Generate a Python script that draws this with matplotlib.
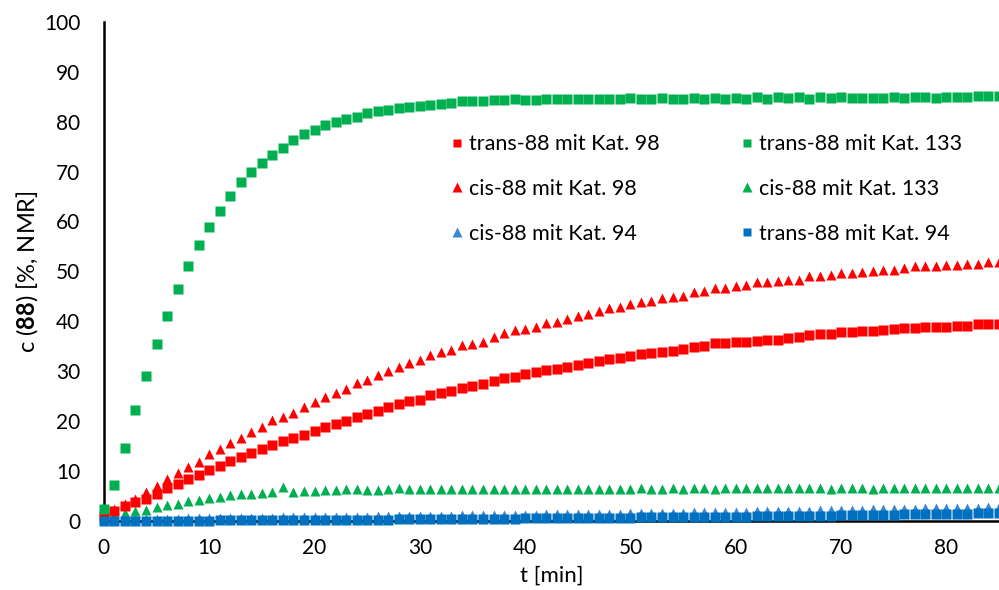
import matplotlib
matplotlib.use("Agg")
import matplotlib.pyplot as plt
import numpy as np

plt.rcParams['font.family'] = ['Lato', 'DejaVu Sans']
plt.rcParams['mathtext.fontset'] = 'custom'
plt.rcParams['mathtext.rm'] = 'Lato'
plt.rcParams['mathtext.bf'] = 'Lato:bold'

# time in minutes
t_min = list(range(0, 86))

trans_98 = [1.0, 1.9, 2.9, 3.9, 4.5, 5.5, 6.6, 7.4, 8.4, 9.2,
            10.2, 11.0, 12.0, 12.9, 13.6, 14.5, 15.2, 16.0, 16.6, 17.2,
            18.0, 18.9, 19.4, 20.0, 20.8, 21.4, 22.0, 22.8, 23.4, 24.0,
            24.2, 25.3, 25.6, 26.1, 26.6, 27.1, 27.4, 28.1, 28.6, 28.9,
            29.5, 29.9, 30.3, 30.4, 30.9, 31.3, 31.7, 32.1, 32.4, 32.7,
            33.1, 33.4, 33.6, 33.9, 34.1, 34.5, 34.9, 35.1, 35.6, 35.6,
            35.9, 35.9, 36.1, 36.3, 36.3, 36.6, 36.8, 37.3, 37.5, 37.5,
            37.8, 37.9, 38.1, 38.1, 38.3, 38.4, 38.6, 38.6, 38.9, 38.9,
            38.9, 39.1, 39.1, 39.5, 39.5, 39.5]

cis_98 = [1.9, 2.3, 3.4, 4.5, 5.8, 7.1, 8.4, 9.6, 10.9, 11.8,
          13.4, 14.4, 15.6, 16.6, 17.9, 18.8, 20.2, 20.9, 21.7, 22.8,
          23.8, 24.9, 25.6, 26.4, 27.7, 28.3, 29.3, 30.1, 30.9, 31.6,
          32.3, 33.3, 33.9, 34.3, 35.2, 35.4, 35.9, 36.9, 37.6, 38.3,
          38.5, 38.9, 39.6, 39.9, 40.5, 41.1, 41.4, 42.1, 42.7, 42.8,
          43.5, 43.9, 44.1, 44.6, 44.9, 45.1, 45.8, 46.0, 46.6, 46.6,
          47.0, 47.3, 47.8, 47.8, 48.0, 48.3, 48.3, 49.0, 49.1, 49.3,
          49.6, 49.6, 49.9, 50.1, 50.3, 50.3, 50.6, 51.0, 51.1, 51.1,
          51.3, 51.3, 51.5, 51.5, 51.8, 51.8]

trans_133 = [2.3, 7.2, 14.6, 22.2, 29.0, 35.4, 41.1, 46.5, 51.0, 55.3,
             58.9, 62.1, 65.1, 67.9, 69.9, 71.7, 73.3, 74.7, 76.3, 77.5,
             78.4, 79.4, 79.9, 80.6, 81.0, 81.7, 82.2, 82.4, 82.8, 83.0,
             83.2, 83.4, 83.6, 83.7, 84.1, 84.1, 84.2, 84.4, 84.4, 84.5,
             84.4, 84.4, 84.5, 84.5, 84.6, 84.5, 84.6, 84.6, 84.6, 84.6,
             84.7, 84.6, 84.6, 84.7, 84.6, 84.6, 84.7, 84.6, 84.7, 84.6,
             84.7, 84.6, 85.0, 84.6, 85.0, 84.7, 85.0, 84.6, 85.0, 84.7,
             85.0, 84.7, 84.8, 84.8, 84.8, 84.9, 84.8, 84.9, 84.9, 84.8,
             85.0, 85.0, 85.0, 85.1, 85.1, 85.2]

cis_133 = [0.5, 1.0, 1.5, 1.9, 2.2, 2.7, 3.1, 3.5, 4.1, 4.3,
           4.7, 4.9, 5.2, 5.4, 5.5, 5.7, 5.9, 6.8, 5.9, 6.1,
           6.1, 6.2, 6.2, 6.4, 6.4, 6.2, 6.2, 6.4, 6.6, 6.4,
           6.4, 6.5, 6.5, 6.4, 6.5, 6.5, 6.5, 6.4, 6.5, 6.5,
           6.5, 6.5, 6.5, 6.5, 6.5, 6.5, 6.4, 6.5, 6.5, 6.5,
           6.5, 6.6, 6.5, 6.5, 6.6, 6.5, 6.6, 6.6, 6.5, 6.6,
           6.6, 6.6, 6.7, 6.6, 6.6, 6.6, 6.7, 6.6, 6.6, 6.5,
           6.6, 6.6, 6.7, 6.5, 6.6, 6.6, 6.6, 6.6, 6.7, 6.6,
           6.6, 6.7, 6.6, 6.6, 6.7, 6.7]

cis_94 = [0.2, 0.3, 0.3, 0.3, 0.4, 0.4, 0.4, 0.4, 0.5, 0.5,
          0.5, 0.5, 0.6, 0.6, 0.6, 0.6, 0.6, 0.7, 0.7, 0.7,
          0.7, 0.8, 0.8, 0.8, 0.8, 0.8, 0.9, 0.9, 0.9, 0.9,
          1.0, 1.0, 1.0, 1.0, 1.1, 1.1, 1.1, 1.1, 1.2, 1.2,
          1.2, 1.2, 1.3, 1.3, 1.3, 1.3, 1.4, 1.4, 1.4, 1.4,
          1.5, 1.5, 1.5, 1.6, 1.6, 1.6, 1.7, 1.7, 1.7, 1.8,
          1.8, 1.8, 1.9, 1.9, 1.9, 2.0, 2.0, 2.0, 2.1, 2.1,
          2.2, 2.2, 2.2, 2.3, 2.3, 2.4, 2.4, 2.4, 2.5, 2.5,
          2.5, 2.6, 2.6, 2.6, 2.7, 2.7]

trans_94 = [0.0, 0.0, 0.0, 0.0, 0.0, 0.0, 0.0, 0.0, 0.0, 0.0,
            0.0, 0.1, 0.1, 0.1, 0.1, 0.1, 0.1, 0.1, 0.1, 0.1,
            0.2, 0.2, 0.2, 0.2, 0.2, 0.2, 0.2, 0.2, 0.3, 0.3,
            0.3, 0.3, 0.3, 0.3, 0.3, 0.4, 0.4, 0.4, 0.4, 0.4,
            0.5, 0.5, 0.5, 0.5, 0.5, 0.5, 0.6, 0.6, 0.6, 0.6,
            0.6, 0.7, 0.7, 0.7, 0.7, 0.7, 0.7, 0.8, 0.8, 0.8,
            0.8, 0.8, 0.9, 0.9, 0.9, 0.9, 1.0, 1.0, 1.0, 1.0,
            1.1, 1.1, 1.1, 1.2, 1.2, 1.2, 1.3, 1.3, 1.3, 1.4,
            1.4, 1.4, 1.4, 1.5, 1.5, 1.5]

labels = ["trans-88 mit Kat. 98", "cis-88 mit Kat. 98",
          "trans-88 mit Kat. 133", "cis-88 mit Kat. 133",
          "cis-88 mit Kat. 94", "trans-88 mit Kat. 94"]

RED = '#FF0000'
GREEN = '#00B050'
BLUE = '#0070C0'
LBLUE = '#3F86D0'

fig = plt.figure(figsize=(9.99, 5.90), dpi=100)
ax = fig.add_axes([0.104, 0.117, 0.896, 0.846])

sq = 6.5
tr = 7.8
h_t98, = ax.plot(t_min, trans_98, 's', color=RED, ms=sq, mec='none', clip_on=False, zorder=3)
h_c98, = ax.plot(t_min, cis_98, '^', color=RED, ms=tr, mec='none', clip_on=False, zorder=2)
h_t133, = ax.plot(t_min, trans_133, 's', color=GREEN, ms=sq, mec='none', clip_on=False, zorder=3)
h_c133, = ax.plot(t_min, cis_133, '^', color=GREEN, ms=tr, mec='none', clip_on=False, zorder=2)
h_c94, = ax.plot(t_min, cis_94, '^', color=LBLUE, ms=tr, mec='none', clip_on=False, zorder=2)
h_t94, = ax.plot(t_min, trans_94, 's', color=BLUE, ms=sq, mec='none', clip_on=False, zorder=3)

ax.set_xlim(0, 85)
ax.set_ylim(0, 100)
ax.set_xticks(range(0, 90, 10))
ax.set_yticks(range(0, 110, 10))
ax.tick_params(axis='both', length=0, labelsize=15, colors='black')
ax.tick_params(axis='y', pad=17)
ax.tick_params(axis='x', pad=12)
for s in ['top', 'right']:
    ax.spines[s].set_visible(False)
for s in ['left', 'bottom']:
    ax.spines[s].set_linewidth(1.8)
    ax.spines[s].set_color('black')

ax.set_xlabel('t [min]', fontsize=16, labelpad=6)
ax.set_ylabel(r'c ($\mathbf{88}$) [%, NMR]', fontsize=17, labelpad=3)

handles = [h_t98, h_c98, h_c94, h_t133, h_c133, h_t94]
leg_labels = [labels[0], labels[1], labels[4], labels[2], labels[3], labels[5]]
ax.legend(handles, leg_labels, ncol=2, loc='upper left',
          bbox_to_anchor=(0.441, 0.791), bbox_transform=fig.transFigure,
          frameon=False, fontsize=15.5, markerscale=0.85, handlelength=0.5,
          handletextpad=0.3, columnspacing=3.84, labelspacing=1.15, borderpad=0)

fig.savefig('out.png', dpi=100)
